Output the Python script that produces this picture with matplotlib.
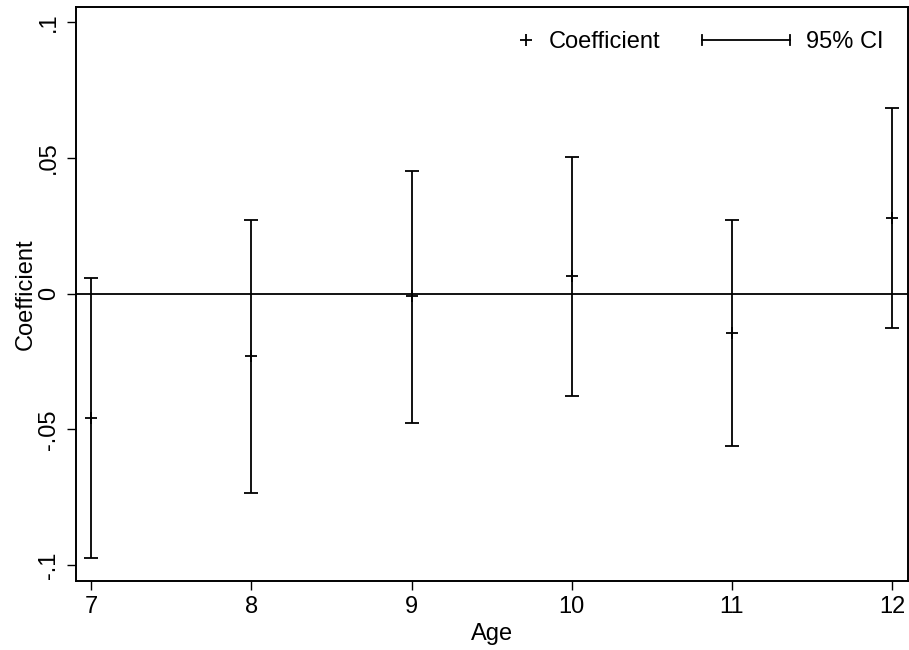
import matplotlib
matplotlib.use("Agg")
import matplotlib.pyplot as plt
from matplotlib.lines import Line2D
from matplotlib.legend_handler import HandlerBase
import numpy as np

plt.rcParams['font.family'] = ['Liberation Sans', 'DejaVu Sans']

ages = [7, 8, 9, 10, 11, 12]
coef = [-0.0457, -0.0231, -0.0010, 0.0065, -0.0145, 0.0278]
ci_low = [-0.0974, -0.0733, -0.0476, -0.0376, -0.0560, -0.0126]
ci_high = [0.0057, 0.0272, 0.0453, 0.0504, 0.0272, 0.0684]
yticks = [-0.1, -0.05, 0, 0.05, 0.1]
ytick_labels = ["-.1", "-.05", "0", ".05", ".1"]

FS = 17
LW = 1.3

fig = plt.figure(figsize=(9.09, 6.50), dpi=100)
ax = fig.add_axes([0.0836, 0.1062, 0.9989 - 0.0836, 0.9892 - 0.1062])

ages_a = np.array(ages)
coef_a = np.array(coef)
lo = np.array(ci_low)
hi = np.array(ci_high)

ax.axhline(0, color='black', lw=LW, zorder=1)
ax.errorbar(ages_a, coef_a, yerr=[coef_a - lo, hi - coef_a], fmt='none',
            ecolor='black', elinewidth=LW, capsize=5, capthick=LW, zorder=2)
ax.plot(ages_a, coef_a, linestyle='none', marker='+', markersize=8,
        markeredgewidth=LW, color='black', zorder=3)

ax.set_xlim(6.905, 12.1)
ax.set_ylim(-0.1058, 0.1055)
ax.set_xticks(ages)
ax.set_xticklabels([str(a) for a in ages], fontsize=FS)
ax.set_yticks(yticks)
ax.set_yticklabels(ytick_labels, fontsize=FS, rotation=90, va='center')
ax.tick_params(axis='both', direction='out', length=6.5, width=1.0, color='black')
ax.tick_params(axis='y', pad=5)
ax.tick_params(axis='x', pad=4)
for s in ax.spines.values():
    s.set_linewidth(1.4)

ax.set_xlabel("Age", fontsize=FS, labelpad=4)
ax.set_ylabel("Coefficient", fontsize=FS, labelpad=1)


class HandlerCI(HandlerBase):
    def create_artists(self, legend, orig_handle, xdescent, ydescent,
                       width, height, fontsize, trans):
        yc = height / 2 - ydescent
        cap = height * 0.3
        l1 = Line2D([-xdescent, width - xdescent], [yc, yc], color='black', lw=LW)
        l2 = Line2D([-xdescent, -xdescent], [yc - cap, yc + cap], color='black', lw=LW)
        l3 = Line2D([width - xdescent, width - xdescent], [yc - cap, yc + cap], color='black', lw=LW)
        for l in (l1, l2, l3):
            l.set_transform(trans)
        return [l1, l2, l3]


class HandlerPlus(HandlerBase):
    def create_artists(self, legend, orig_handle, xdescent, ydescent,
                       width, height, fontsize, trans):
        l = Line2D([width - xdescent - 5], [height / 2 - ydescent], marker='+',
                   markersize=8, markeredgewidth=LW, color='black', linestyle='none')
        l.set_transform(trans)
        return [l]


h_coef = Line2D([], [], marker='+', linestyle='none', color='black')
h_ci = Line2D([], [], color='black')
leg = ax.legend([h_coef, h_ci], ["Coefficient", "95% CI"], ncol=2,
                loc='upper right', bbox_to_anchor=(0.996, 0.995), frameon=False,
                fontsize=FS, handler_map={h_coef: HandlerPlus(), h_ci: HandlerCI()},
                handlelength=3.73, columnspacing=1.75, handletextpad=0.68)

fig.savefig("out.png", dpi=100)
